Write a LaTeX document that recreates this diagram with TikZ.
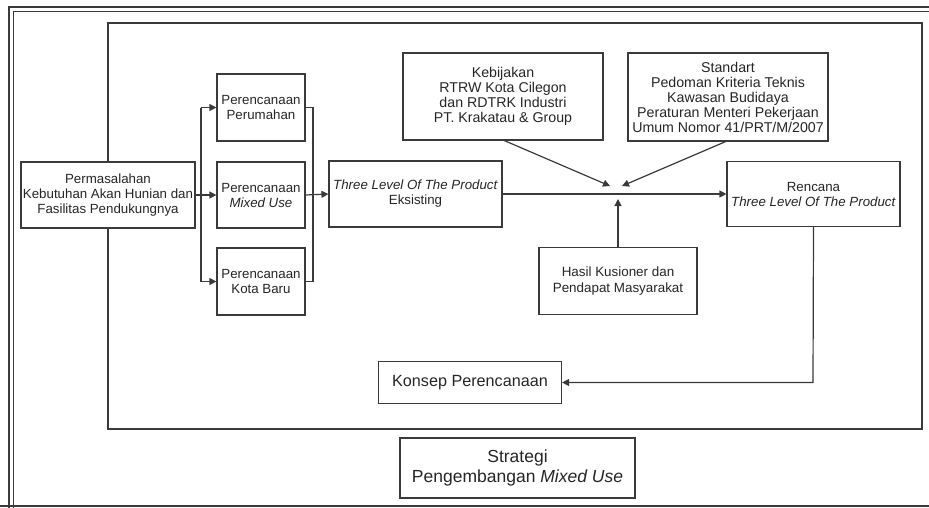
\documentclass[tikz,border=0pt]{standalone}
\usepackage{fontspec}
\setmainfont{Liberation Sans}
\usetikzlibrary{arrows.meta}
\definecolor{ln}{HTML}{3A3A3A}
\tikzset{
  box/.style={draw=ln, fill=white, line width=1.2pt, inner sep=0pt, align=center, text=black!85,
    font=\fontsize{13.3}{15}\selectfont},
  conn/.style={draw=ln, line width=1.2pt},
  arr/.style={conn, -{Triangle[length=7pt,width=7pt]}},
}
\begin{document}
\begin{tikzpicture}[x=1pt,y=-1pt]
\useasboundingbox (0,0) rectangle (929,507);
% outer double frame (cut by the page edge)
\draw[ln, line width=2pt] (9,520) -- (9,7) -- (940,7);
\draw[ln, line width=2pt] (0,506) -- (940,506);
\draw[ln, line width=0.9pt] (13,520) -- (13,11) -- (940,11);
% inner frame
\draw[ln, line width=2pt] (108,23) rectangle (922,429);

\node[box, minimum width=174pt, minimum height=66pt] (perm) at (108,195)
  {Permasalahan\\Kebutuhan Akan Hunian dan\\Fasilitas Pendukungnya};
\node[box, minimum width=88pt, minimum height=67pt] (peru) at (261,107.5)
  {Perencanaan\\Perumahan};
\node[box, minimum width=88pt, minimum height=66pt] (mix) at (261,195)
  {Perencanaan\\\textit{Mixed Use}};
\node[box, minimum width=88pt, minimum height=67pt] (kota) at (261,281.5)
  {Perencanaan\\Kota Baru};
\node[box, minimum width=173pt, minimum height=66pt] (tl) at (415.5,194)
  {\textit{Three Level Of The Product}\\Eksisting};
\node[box, minimum width=200pt, minimum height=87pt, font=\fontsize{14.2}{15}\selectfont] (keb) at (503,96.5)
  {Kebijakan\\RTRW Kota Cilegon\\dan RDTRK Industri\\PT. Krakatau \& Group};
\node[box, minimum width=200pt, minimum height=88pt, font=\fontsize{14.2}{15}\selectfont] (std) at (728,97)
  {Standart\\Pedoman Kriteria Teknis\\Kawasan Budidaya\\Peraturan Menteri Pekerjaan\\Umum Nomor 41/PRT/M/2007};
\node[box, minimum width=173pt, minimum height=65pt] (ren) at (813.5,194)
  {Rencana\\\textit{Three Level Of The Product}};
\node[box, minimum width=158pt, minimum height=67pt, font=\fontsize{13.4}{15.5}\selectfont] (has) at (618,281)
  {Hasil Kusioner dan\\Pendapat Masyarakat};
\node[box, minimum width=183pt, minimum height=42pt, font=\fontsize{16.2}{18}\selectfont] (kon) at (470,382.5)
  {Konsep Perencanaan};
\node[box, minimum width=235pt, minimum height=60pt, font=\fontsize{17.5}{20}\selectfont] (str) at (517.5,468)
  {Strategi\\Pengembangan \textit{Mixed Use}};

% branching from Permasalahan
\coordinate (bt) at (201,107.5);
\coordinate (bb) at (201,281.5);
\draw[arr] (perm.east) -- (mix.west);
\draw[conn] (bt) -- (bb);
\draw[arr] (bt) -- (peru.west);
\draw[arr] (bb) -- (kota.west);
% collector
\coordinate (ct) at (313,107.5);
\coordinate (cb) at (313,281.5);
\draw[conn] (peru.east) -- (ct) -- (cb) -- (kota.east);
\draw[arr] (mix.east) -- (tl.west);
% main line
\draw[arr] (tl.east) -- (ren.west);
% converging arrows
\coordinate (k1) at (610,186);
\coordinate (k2) at (622,186);
\coordinate (k3) at (618,199);
\draw[arr] (503,140) -- (k1);
\draw[arr] (727,141) -- (k2);
\draw[arr] (has.north) -- (k3);
% to Konsep
\coordinate (rc) at (813,382.5);
\draw[arr] (ren.south) -- (rc) -- (kon.east);
\end{tikzpicture}
\end{document}
